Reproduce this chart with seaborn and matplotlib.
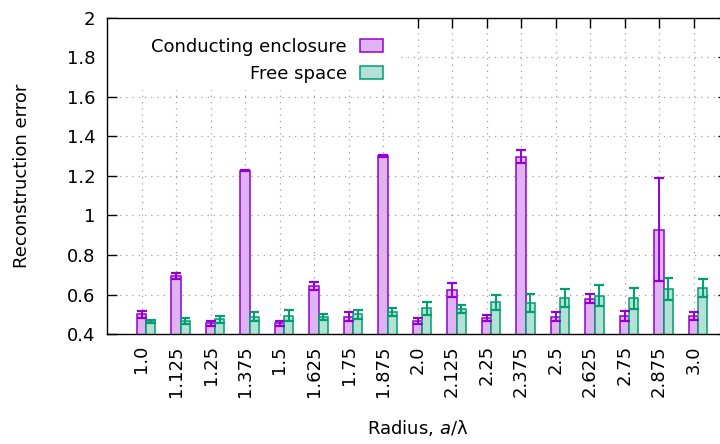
import numpy as np
import matplotlib
matplotlib.use("Agg")
import matplotlib.pyplot as plt
import seaborn as sns
from matplotlib.patches import Patch, Rectangle
from matplotlib.ticker import FixedLocator, FuncFormatter
import matplotlib.transforms as mtransforms

# Radius values a/lambda (category labels)
radius_labels = ["1.0", "1.125", "1.25", "1.375", "1.5", "1.625", "1.75", "1.875",
                 "2.0", "2.125", "2.25", "2.375", "2.5", "2.625", "2.75", "2.875", "3.0"]

# Mean reconstruction error and its spread, conducting enclosure
enclosure_mean = [0.500, 0.692, 0.455, 1.227, 0.454, 0.645, 0.488, 1.301, 0.465,
                  0.623, 0.482, 1.298, 0.488, 0.578, 0.492, 0.928, 0.493]
enclosure_err = [0.017, 0.015, 0.012, 0.003, 0.013, 0.020, 0.022, 0.004, 0.014,
                 0.034, 0.015, 0.034, 0.022, 0.023, 0.026, 0.262, 0.020]

# Mean reconstruction error and its spread, free space
free_mean = [0.462, 0.468, 0.474, 0.488, 0.492, 0.486, 0.500, 0.513, 0.530,
             0.527, 0.560, 0.557, 0.583, 0.594, 0.580, 0.627, 0.632]
free_err = [0.008, 0.015, 0.017, 0.023, 0.028, 0.015, 0.022, 0.020, 0.034,
            0.020, 0.040, 0.044, 0.046, 0.052, 0.053, 0.055, 0.046]

series_names = ["Conducting enclosure", "Free space"]

violet = "#9400D3"
violet_fill = "#DFB2F2"
green = "#009E73"
green_fill = "#B2E2D5"

sns.set_theme(style="ticks")
plt.rcParams["font.family"] = ["DejaVu Sans"]
plt.rcParams["mathtext.fontset"] = "dejavusans"
plt.rcParams["font.size"] = 13
plt.rcParams["text.color"] = "black"
plt.rcParams["axes.labelcolor"] = "black"
plt.rcParams["xtick.labelcolor"] = "black"
plt.rcParams["ytick.labelcolor"] = "black"

fig = plt.figure(figsize=(7.2, 4.44), dpi=100)
ax = fig.add_axes([107 / 720, 110 / 444, 621 / 720, 316 / 444])

slot = np.arange(len(radius_labels), dtype=float)
bar_w = 0.27

sns.barplot(x=slot, y=enclosure_mean, native_scale=True, width=bar_w,
            color=violet_fill, saturation=1, edgecolor=violet, linewidth=1.1,
            errorbar=None, ax=ax, zorder=2)
sns.barplot(x=slot + bar_w, y=free_mean, native_scale=True, width=bar_w,
            color=green_fill, saturation=1, edgecolor=green, linewidth=1.1,
            errorbar=None, ax=ax, zorder=2)

cap_pt = bar_w * 34.5 / 100 * 72
ax.errorbar(slot, enclosure_mean, yerr=enclosure_err, fmt="none", ecolor=violet,
            elinewidth=1.4, capsize=cap_pt / 2, capthick=1.6, zorder=3)
ax.errorbar(slot + bar_w, free_mean, yerr=free_err, fmt="none", ecolor=green,
            elinewidth=1.4, capsize=cap_pt / 2, capthick=1.6, zorder=3)

ax.set_xlim(-1, 17)
ax.set_ylim(0.4, 2.0)

ax.xaxis.set_major_locator(FixedLocator(slot))
ax.set_xticklabels(radius_labels, rotation=90, ha="center", va="top")
offset = mtransforms.ScaledTranslation(3 / 100, 0, fig.dpi_scale_trans)
for lab in ax.get_xticklabels():
    lab.set_transform(lab.get_transform() + offset)

ax.yaxis.set_major_locator(FixedLocator(np.arange(0.4, 2.01, 0.2)))
ax.yaxis.set_major_formatter(FuncFormatter(lambda v, _: f"{v:g}"))

ax.tick_params(axis="both", direction="in", length=7, width=1.0, color="black",
               labelsize=13, labelcolor="black", top=True, right=True)
ax.tick_params(axis="x", pad=8)
ax.tick_params(axis="y", pad=8.5)

for side in ["left", "bottom", "top"]:
    ax.spines[side].set_color("black")
    ax.spines[side].set_linewidth(1.0)
ax.spines["right"].set_visible(False)

ax.set_axisbelow(True)
ax.grid(True, color="#a0a0a0", linestyle=(0, (1, 4)), linewidth=0.9)

ax.set_ylabel("Reconstruction error", fontsize=13, color="black")
ax.set_xlabel("Radius, $\\mathit{a}$/λ", fontsize=13, color="black")
ax.yaxis.set_label_coords(-0.122, 0.5)
ax.xaxis.set_label_coords(0.5, -0.265)

# opaque key area
ax.add_patch(Rectangle((0, (334 - 90) / 316), (400 - 107) / 621, 1,
                       transform=ax.transAxes, facecolor="white", edgecolor="none",
                       zorder=1))

handles = [Patch(facecolor=violet_fill, edgecolor=violet, linewidth=1.1),
           Patch(facecolor=green_fill, edgecolor=green, linewidth=1.1)]
leg = ax.legend(handles, series_names, loc="upper right",
                bbox_to_anchor=((383 - 107) / 621, (334 - 38) / 316),
                markerfirst=False, frameon=False, fontsize=13, borderpad=0,
                borderaxespad=0, handlelength=1.25, handleheight=0.7,
                handletextpad=0.75, labelspacing=0.5)
for t in leg.get_texts():
    t.set_color("black")

fig.savefig("out.png", dpi=100)
